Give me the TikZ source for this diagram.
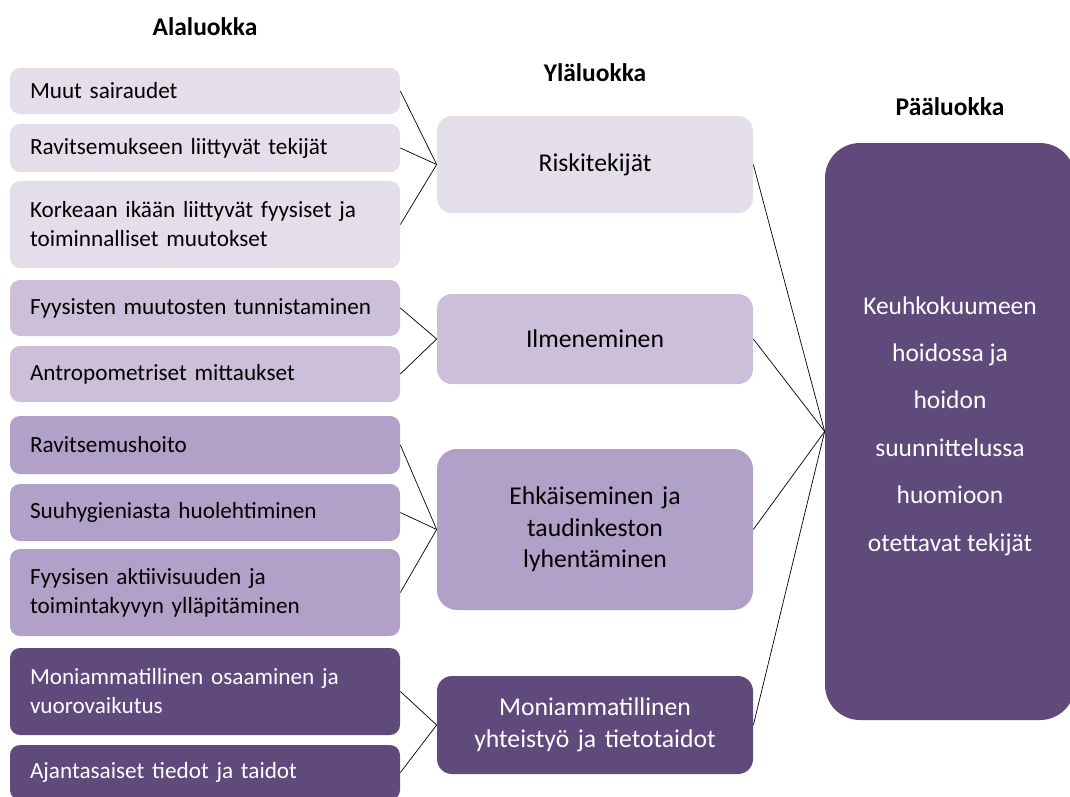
\documentclass[tikz,border=0pt]{standalone}
\usepackage{fontspec}
\setmainfont{Carlito}
\definecolor{lila1}{HTML}{E4DEEB}
\definecolor{lila2}{HTML}{CBBFD9}
\definecolor{lila3}{HTML}{B1A0C7}
\definecolor{lila4}{HTML}{604A7B}
\tikzset{
  ala/.style={rounded corners=0.2cm, minimum width=7.8cm, text width=7.0cm,
    align=left, inner xsep=0.4cm, font=\fontsize{13.2}{16.5}\selectfont},
  yla/.style={rounded corners=0.3cm, minimum width=6.32cm, text width=5.6cm,
    align=center, font=\fontsize{14.6}{18}\selectfont},
  otsikko/.style={font=\bfseries\fontsize{14.5}{16}\selectfont},
}
\begin{document}
\begin{tikzpicture}
  \useasboundingbox (0,0) rectangle (21.4,-15.92);
  \node[otsikko] (h1) at (4.1,-0.54) {Alaluokka};
  \node[otsikko] (h2) at (11.9,-1.46) {Yläluokka};
  \node[otsikko] (h3) at (19.0,-2.14) {Pääluokka};
  \node[ala, fill=lila1, minimum height=0.92cm] (a1) at (4.1,-1.82) {Muut sairaudet};
  \node[ala, fill=lila1, minimum height=0.96cm] (a2) at (4.1,-2.96) {Ravitsemukseen liittyvät tekijät};
  \node[ala, fill=lila1, minimum height=1.74cm] (a3) at (4.1,-4.49) {Korkeaan ikään liittyvät fyysiset ja\\ toiminnalliset muutokset};
  \node[ala, fill=lila2, minimum height=1.12cm] (a4) at (4.1,-6.16) {Fyysisten muutosten tunnistaminen};
  \node[ala, fill=lila2, minimum height=1.12cm] (a5) at (4.1,-7.48) {Antropometriset mittaukset};
  \node[ala, fill=lila3, minimum height=1.16cm] (a6) at (4.1,-8.9) {Ravitsemushoito};
  \node[ala, fill=lila3, minimum height=1.14cm] (a7) at (4.1,-10.25) {Suuhygieniasta huolehtiminen};
  \node[ala, fill=lila3, minimum height=1.74cm] (a8) at (4.1,-11.85) {Fyysisen aktiivisuuden ja\\ toimintakyvyn ylläpitäminen};
  \node[ala, fill=lila4, text=white, minimum height=1.74cm] (a9) at (4.1,-13.83) {Moniammatillinen osaaminen ja\\ vuorovaikutus};
  \node[ala, fill=lila4, text=white, minimum height=1.1cm] (a10) at (4.1,-15.45) {Ajantasaiset tiedot ja taidot};
  \node[yla, fill=lila1, minimum height=1.94cm] (y1) at (11.9,-3.29) {Riskitekijät};
  \node[yla, fill=lila2, minimum height=1.8cm] (y2) at (11.9,-6.78) {Ilmeneminen};
  \node[yla, fill=lila3, minimum height=3.22cm, rounded corners=0.4cm] (y3) at (11.9,-10.59) {Ehkäiseminen ja\\ taudinkeston\\ lyhentäminen};
  \node[yla, fill=lila4, text=white, minimum height=1.96cm] (y4) at (11.9,-14.5) {Moniammatillinen\\ yhteistyö ja tietotaidot};
  \node[fill=lila4, text=white, rounded corners=0.7cm, minimum width=5cm, minimum height=11.54cm,
    font=\fontsize{14.5}{27}\selectfont] (p) at (19.0,-8.63)
    {\raisebox{0.04cm}[0pt][0pt]{\begin{tabular}{@{}c@{}}Keuhkokuumeen\\ hoidossa ja\\ hoidon\\ suunnittelussa\\ huomioon\\ otettavat tekijät\end{tabular}}};
  \draw (a1.east) -- (y1.west);
  \draw (a2.east) -- (y1.west);
  \draw (a3.east) -- (y1.west);
  \draw (a4.east) -- (y2.west);
  \draw (a5.east) -- (y2.west);
  \draw (a6.east) -- (y3.west);
  \draw (a7.east) -- (y3.west);
  \draw (a8.east) -- (y3.west);
  \draw (a9.east) -- (y4.west);
  \draw (a10.east) -- (y4.west);
  \draw (y1.east) -- (p.west);
  \draw (y2.east) -- (p.west);
  \draw (y3.east) -- (p.west);
  \draw (y4.east) -- (p.west);
\end{tikzpicture}
\end{document}
